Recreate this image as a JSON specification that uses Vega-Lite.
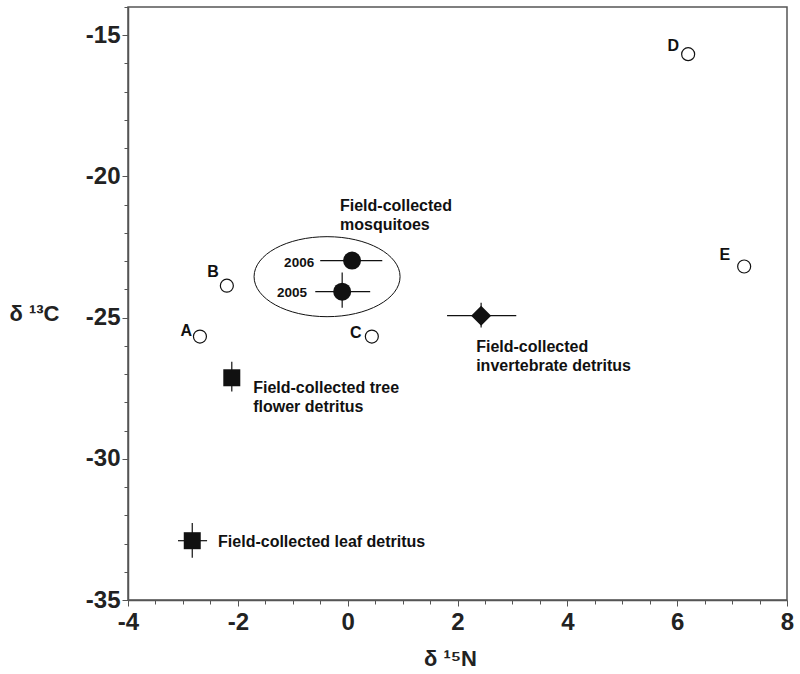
{
  "$schema": "https://vega.github.io/schema/vega-lite/v6.json",
  "width": 659,
  "height": 593,
  "autosize": {"type": "none"},
  "padding": {"left": 128, "top": 7, "right": 13, "bottom": 74},
  "background": "white",
  "config": {
    "view": {"stroke": "#555", "strokeWidth": 1.5},
    "font": "Liberation Sans"
  },
  "datasets": {
    "pts": [
      {"name": "A", "kind": "open", "x": -2.69, "y": -25.67},
      {"name": "B", "kind": "open", "x": -2.2, "y": -23.87},
      {"name": "C", "kind": "open", "x": 0.44, "y": -25.67},
      {"name": "D", "kind": "open", "x": 6.2, "y": -15.67},
      {"name": "E", "kind": "open", "x": 7.22, "y": -23.19},
      {"name": "2006", "kind": "mosq", "x": 0.08, "y": -22.98, "xlo": -0.5, "xhi": 0.63, "ylo": -23.2, "yhi": -22.75},
      {"name": "2005", "kind": "mosq", "x": -0.1, "y": -24.08, "xlo": -0.59, "xhi": 0.41, "ylo": -24.65, "yhi": -23.4},
      {"name": "tree", "kind": "square", "x": -2.11, "y": -27.13, "xlo": -2.2, "xhi": -2.02, "ylo": -27.62, "yhi": -26.56},
      {"name": "leaf", "kind": "square", "x": -2.83, "y": -32.9, "xlo": -3.09, "xhi": -2.56, "ylo": -33.5, "yhi": -32.27},
      {"name": "invert", "kind": "diamond", "x": 2.43, "y": -24.93, "xlo": 1.81, "xhi": 3.07, "ylo": -25.35, "yhi": -24.47}
    ],
    "letters": [
      {"t": "A", "x": -2.94, "y": -25.46},
      {"t": "B", "x": -2.45, "y": -23.4},
      {"t": "C", "x": 0.15, "y": -25.53},
      {"t": "D", "x": 5.93, "y": -15.39},
      {"t": "E", "x": 6.87, "y": -22.77}
    ],
    "years": [
      {"t": "2006", "x": -0.61, "y": -23.19},
      {"t": "2005", "x": -0.74, "y": -24.26}
    ],
    "notes": [
      {"t": "Field-collected\nmosquitoes", "x": -0.14, "y": -21.24},
      {"t": "Field-collected\ninvertebrate detritus", "x": 2.34, "y": -26.21},
      {"t": "Field-collected tree\nflower detritus", "x": -1.72, "y": -27.66},
      {"t": "Field-collected leaf detritus", "x": -2.36, "y": -33.12}
    ],
    "ellipse": [
      {"x": -0.375, "y": -23.55}
    ]
  },
  "encoding": {
    "x": {
      "field": "x", "type": "quantitative",
      "scale": {"domain": [-4, 8], "nice": false, "zero": false},
      "axis": {
        "title": "δ ¹⁵N",
        "titleFont": "Liberation Sans", "titleFontSize": 22, "titleFontWeight": "bold", "titleColor": "#222",
        "titleX": 322, "titleY": 58, "titleBaseline": "middle", "titleAlign": "center",
        "values": [-4,-3.5,-3,-2.5,-2,-1.5,-1,-0.5,0,0.5,1,1.5,2,2.5,3,3.5,4,4.5,5,5.5,6,6.5,7,7.5,8],
        "labelExpr": "datum.value % 2 === 0 ? '' + datum.value : ''",
        "labelFontSize": 24, "labelFontWeight": "bold", "labelColor": "#222", "labelPadding": 4,
        "labelFlush": false, "labelOverlap": false,
        "tickSize": {"condition": {"test": "datum.value % 2 === 0", "value": 6}, "value": 4},
        "tickColor": "#555", "domainColor": "#555", "domainWidth": 1.5, "grid": false
      }
    },
    "y": {
      "field": "y", "type": "quantitative",
      "scale": {"domain": [-35, -14], "nice": false, "zero": false},
      "axis": {
        "title": "δ ¹³C",
        "titleFont": "Liberation Sans", "titleFontSize": 22, "titleFontWeight": "bold", "titleColor": "#222",
        "titleAngle": 0, "titleX": -94, "titleY": 306, "titleAlign": "center", "titleBaseline": "middle",
        "values": [-35,-34,-33,-32,-31,-30,-29,-28,-27,-26,-25,-24,-23,-22,-21,-20,-19,-18,-17,-16,-15,-14],
        "labelExpr": "datum.value % 5 === 0 ? '' + datum.value : ''",
        "labelFontSize": 24, "labelFontWeight": "bold", "labelColor": "#222", "labelPadding": 2,
        "labelFlush": false, "labelOverlap": false,
        "tickSize": {"condition": {"test": "datum.value % 5 === 0", "value": 6}, "value": 4},
        "tickColor": "#555", "domainColor": "#555", "domainWidth": 1.5, "grid": false
      }
    }
  },
  "layer": [
    {
      "data": {"name": "ellipse"},
      "mark": {
        "type": "point",
        "shape": "M -1 0 C -1 -0.303 -0.552 -0.548 0 -0.548 C 0.552 -0.548 1 -0.303 1 0 C 1 0.303 0.552 0.548 0 0.548 C -0.552 0.548 -1 0.303 -1 0 Z",
        "size": 21316, "filled": false, "stroke": "#111", "strokeWidth": 1, "opacity": 1
      }
    },
    {
      "data": {"name": "pts"},
      "transform": [{"filter": "isValid(datum.xlo)"}],
      "mark": {"type": "rule", "stroke": "#111", "strokeWidth": 1.2},
      "encoding": {"x": {"field": "xlo", "type": "quantitative"}, "x2": {"field": "xhi"}}
    },
    {
      "data": {"name": "pts"},
      "transform": [{"filter": "isValid(datum.ylo)"}],
      "mark": {"type": "rule", "stroke": "#111", "strokeWidth": 1.2},
      "encoding": {"y": {"field": "ylo", "type": "quantitative"}, "y2": {"field": "yhi"}}
    },
    {
      "data": {"name": "pts"},
      "transform": [{"filter": "datum.kind === 'open'"}],
      "mark": {"type": "point", "shape": "circle", "size": 169, "filled": true, "fill": "white", "stroke": "#111", "strokeWidth": 1.2, "opacity": 1}
    },
    {
      "data": {"name": "pts"},
      "transform": [{"filter": "datum.kind === 'mosq'"}],
      "mark": {"type": "point", "shape": "circle", "size": 324, "filled": true, "fill": "#111", "opacity": 1}
    },
    {
      "data": {"name": "pts"},
      "transform": [{"filter": "datum.kind === 'square'"}],
      "mark": {"type": "point", "shape": "square", "size": 289, "filled": true, "fill": "#111", "opacity": 1}
    },
    {
      "data": {"name": "pts"},
      "transform": [{"filter": "datum.kind === 'diamond'"}],
      "mark": {"type": "point", "shape": "diamond", "size": 400, "filled": true, "fill": "#111", "opacity": 1}
    },
    {
      "data": {"name": "letters"},
      "mark": {"type": "text", "font": "Liberation Sans", "fontSize": 16, "fontWeight": "bold", "align": "center", "baseline": "middle", "fill": "#111"},
      "encoding": {"text": {"field": "t"}}
    },
    {
      "data": {"name": "years"},
      "mark": {"type": "text", "font": "Liberation Sans", "fontSize": 13.5, "fontWeight": "bold", "align": "right", "baseline": "alphabetic", "fill": "#111"},
      "encoding": {"text": {"field": "t"}}
    },
    {
      "data": {"name": "notes"},
      "mark": {"type": "text", "font": "Liberation Sans", "fontSize": 16, "fontWeight": "bold", "align": "left", "baseline": "alphabetic", "lineBreak": "\n", "lineHeight": 19, "fill": "#111"},
      "encoding": {"text": {"field": "t"}}
    }
  ]
}
